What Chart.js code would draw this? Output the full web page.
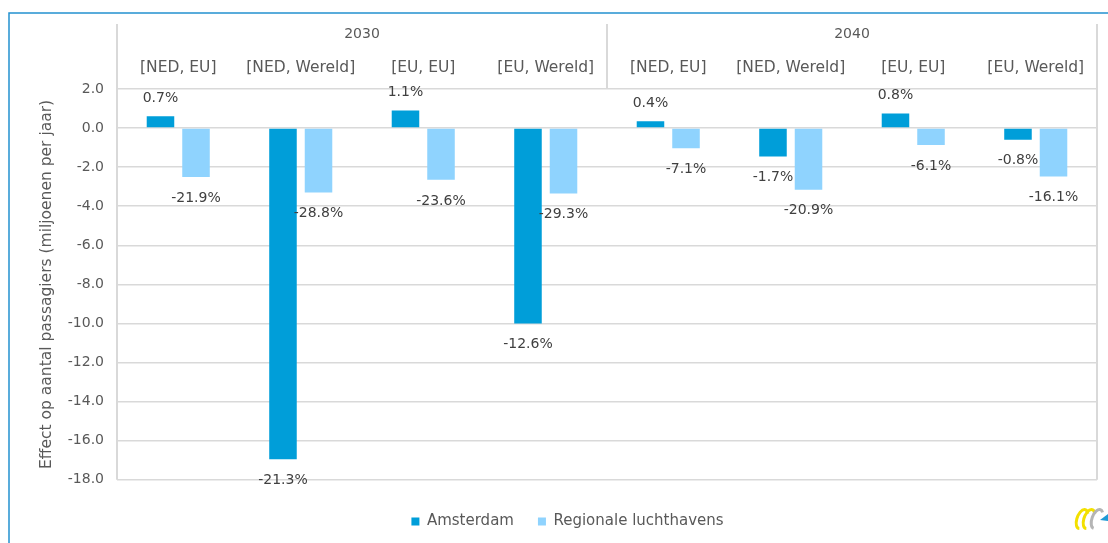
<!DOCTYPE html>
<html>
<head>
<meta charset="utf-8">
<script src="https://cdn.jsdelivr.net/npm/chart.js@4.4.1/dist/chart.umd.min.js"></script>
<style>
html, body { margin: 0; padding: 0; background: #fff; }
</style>
</head>
<body>
<canvas id="chartPassagiers" width="1108" height="543"></canvas>
<script>
// data
const years = ['2030', '2040'];
const categories = ['[NED, EU]', '[NED, Wereld]', '[EU, EU]', '[EU, Wereld]',
  '[NED, EU]', '[NED, Wereld]', '[EU, EU]', '[EU, Wereld]'];
const amsterdam = [0.6, -16.95, 0.9, -10.0, 0.35, -1.45, 0.75, -0.6];
const regionaal = [-2.5, -3.3, -2.65, -3.35, -1.03, -3.15, -0.87, -2.48];
const amsterdamPct = ['0.7%', '-21.3%', '1.1%', '-12.6%', '0.4%', '-1.7%', '0.8%', '-0.8%'];
const regionaalPct = ['-21.9%', '-28.8%', '-23.6%', '-29.3%', '-7.1%', '-20.9%', '-6.1%', '-16.1%'];
const yMin = -18, yMax = 2, yStep = 2;

const FONT = 'DejaVu Sans';
const grey = '#595959';

const pctLabels = {
  id: 'pctLabels',
  afterDatasetsDraw(chart) {
    const ctx = chart.ctx;
    const texts = [amsterdamPct, regionaalPct];
    ctx.save();
    ctx.font = '14px "' + FONT + '"';
    ctx.fillStyle = '#404040';
    ctx.textAlign = 'center';
    ctx.textBaseline = 'middle';
    chart.data.datasets.forEach((ds, di) => {
      chart.getDatasetMeta(di).data.forEach((bar, i) => {
        const y = ds.data[i] >= 0 ? bar.y - 18 : bar.y + 21;
        ctx.fillText(texts[di][i], bar.x, y);
      });
    });
    ctx.restore();
  }
};

const frame = {
  id: 'frame',
  beforeDraw(chart) {
    const ctx = chart.ctx;
    ctx.save();
    ctx.strokeStyle = '#2391d0';
    ctx.lineWidth = 1.5;
    ctx.beginPath();
    ctx.moveTo(9, 543);
    ctx.lineTo(9, 13);
    ctx.lineTo(1108, 13);
    ctx.stroke();
    ctx.restore();
  },
  afterDraw(chart) {
    const ctx = chart.ctx;
    const a = chart.chartArea;
    const x = chart.scales.x;
    const top = 24;
    ctx.save();
    // header lines
    ctx.strokeStyle = '#d9d9d9';
    ctx.lineWidth = 2;
    ctx.beginPath();
    ctx.moveTo(a.left, top); ctx.lineTo(a.left, a.bottom);
    ctx.moveTo(a.right, top); ctx.lineTo(a.right, a.bottom);
    const mid = x.getPixelForValue(3.5);
    ctx.moveTo(mid, top); ctx.lineTo(mid, a.top);
    ctx.stroke();

    // years
    ctx.font = '14px "' + FONT + '"';
    ctx.fillStyle = grey;
    ctx.textAlign = 'center';
    ctx.textBaseline = 'middle';
    years.forEach((yr, i) => {
      const l = x.getPixelForValue(i * 4 - 0.5);
      const r = x.getPixelForValue(i * 4 + 3.5);
      ctx.fillText(yr, (l + r) / 2, 34);
    });

    // y title
    ctx.font = '15.5px "' + FONT + '"';
    ctx.translate(47, (a.top + a.bottom) / 2);
    ctx.rotate(-Math.PI / 2);
    ctx.fillText('Effect op aantal passagiers (miljoenen per jaar)', 0, 0);
    ctx.restore();

    // logo
    ctx.save();
    ctx.lineWidth = 3;
    ctx.strokeStyle = '#f3e000';
    ctx.beginPath();
    ctx.ellipse(1082, 519, 5, 10, 0.35, Math.PI * 0.45, Math.PI * 1.75);
    ctx.stroke();
    ctx.beginPath();
    ctx.ellipse(1089, 519, 5, 10, 0.35, Math.PI * 0.45, Math.PI * 1.75);
    ctx.stroke();
    ctx.strokeStyle = '#b5b5b5';
    ctx.beginPath();
    ctx.ellipse(1097, 519, 5, 10, 0.35, Math.PI * 0.5, Math.PI * 1.7);
    ctx.stroke();
    ctx.fillStyle = '#1f9ad6';
    ctx.beginPath();
    ctx.moveTo(1100, 520); ctx.lineTo(1108, 514); ctx.lineTo(1108, 521);
    ctx.closePath();
    ctx.fill();
    ctx.restore();
  }
};

new Chart(document.getElementById('chartPassagiers').getContext('2d'), {
  type: 'bar',
  data: {
    labels: categories,
    datasets: [{
      label: 'Amsterdam',
      data: amsterdam,
      backgroundColor: '#009ed9',
      barPercentage: 0.775,
      categoryPercentage: 0.58
    }, {
      label: 'Regionale luchthavens',
      data: regionaal,
      backgroundColor: '#8fd3fe',
      barPercentage: 0.775,
      categoryPercentage: 0.58
    }]
  },
  options: {
    responsive: false,
    animation: false,
    devicePixelRatio: 1,
    layout: {
      padding: { left: 38, top: 24, right: 11, bottom: 4 }
    },
    scales: {
      x: {
        position: 'top',
        grid: { display: false },
        border: { display: false },
        ticks: {
          color: grey,
          font: { family: FONT, size: 15.5 },
          padding: 4,
          maxRotation: 0,
          autoSkip: false
        },
        afterFit(s) { s.height = 65; }
      },
      y: {
        min: yMin,
        max: yMax,
        grid: { color: '#d9d9d9', lineWidth: 1.5, drawTicks: false },
        border: { display: false },
        ticks: {
          stepSize: yStep,
          padding: 13,
          color: grey,
          font: { family: FONT, size: 14 },
          callback: v => v.toFixed(1)
        },
        afterFit(s) { s.width = 79; }
      }
    },
    plugins: {
      tooltip: { enabled: false },
      legend: {
        position: 'bottom',
        title: { display: true, text: '', padding: { top: 9, bottom: 0 }, font: { size: 1 } },
        labels: {
          boxWidth: 8,
          boxHeight: 8,
          padding: 24,
          color: grey,
          font: { family: FONT, size: 15 }
        }
      }
    }
  },
  plugins: [pctLabels, frame]
});
</script>
</body>
</html>
